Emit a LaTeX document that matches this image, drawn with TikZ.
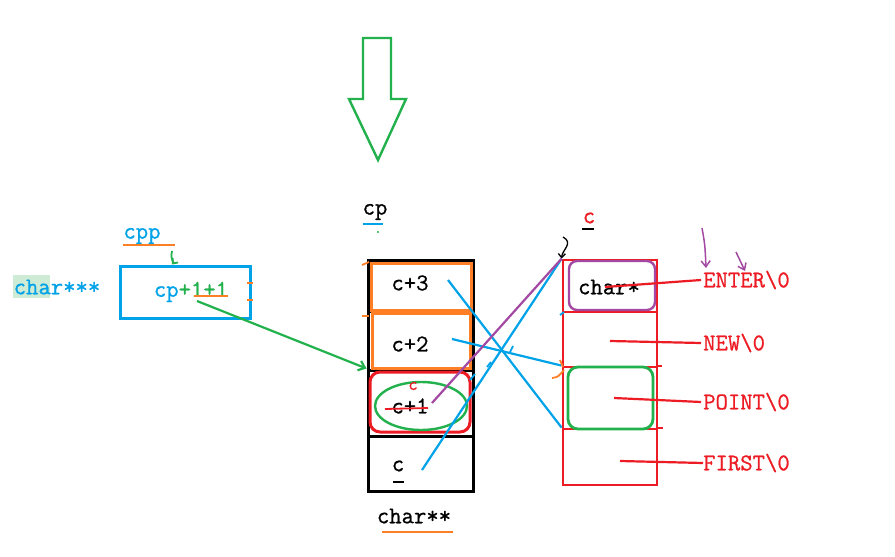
\documentclass[tikz,border=0pt]{standalone}
\usepackage{fontspec}
\newfontfamily\mono[FakeBold=0.8]{Latin Modern Mono}
\usetikzlibrary{arrows.meta,shapes.geometric}
\definecolor{pblue}{HTML}{00A2E8}
\definecolor{pred}{HTML}{ED1C24}
\definecolor{pgreen}{HTML}{22B14C}
\definecolor{porange}{HTML}{FF7F27}
\definecolor{ppurple}{HTML}{A349A4}
\definecolor{hl}{HTML}{CDEBD5}
\tikzset{
  txt/.style={font=\mono\fontsize{24}{24}\selectfont, inner sep=0pt},
  cellbox/.style={draw=black, line width=3pt, minimum width=105pt, inner sep=0pt},
  orbox/.style={draw=porange, line width=3pt, inner sep=0pt},
  redcell/.style={draw=pred, line width=2.8pt, minimum width=94pt, inner sep=0pt},
  lbl/.style={txt, text=pred, anchor=west},
  redline/.style={draw=pred, line width=2.2pt},
  blueline/.style={draw=pblue, line width=2.2pt},
  purpline/.style={draw=ppurple, line width=2.2pt},
  pen/.style={line width=1.8pt},
  barb/.style={-{Straight Barb[length=6pt,width=10pt]}},
}
\begin{document}
\begin{tikzpicture}[x=1pt,y=-1pt]
\useasboundingbox[fill=white] (0,0) rectangle (895,557);

% big hollow green arrow
\draw[pgreen, line width=2.4pt, line join=miter]
  (363,38) -- (391,38) -- (391,99) -- (406,99) -- (378,160) -- (349,99) -- (363,99) -- cycle;

% ---------- left part ----------
\fill[hl] (13,275) rectangle (50,298);
\node[txt, text=pblue] (c3star) at (57,287) {char***};
\node[txt, text=pblue] (cpp) at (142,236) {cpp};
\draw[porange, pen] (123,245) -- (175,245);
\node[draw=pblue, line width=3pt, minimum width=130pt, minimum height=52pt, inner sep=0pt] (cppbox) at (185,292) {};
\node[txt] (cptext) at (191,292) {\textcolor{pblue}{cp}\textcolor{pgreen}{+1+1}};
\draw[porange, pen] (194,296) -- (228,296);
\draw[porange, pen] (247,283) -- (253,283);
\draw[porange, pen] (247,300) -- (253,300);
\coordinate (gtop) at (172,251);
\draw[pgreen, pen, -{Straight Barb[length=4pt,width=7pt]}] (gtop) .. controls (170,260) and (174,262) .. (cppbox.north -| gtop);

% ---------- middle column ----------
\node[txt] (cplabel) at (375,212) {cp};
\draw[pblue, pen] (363,224) -- (383,224);
\fill[pgreen] (378,232) circle (1.2);

\node[cellbox, minimum height=51pt] (cell3) at (420.5,285.5) {};
\node[cellbox, minimum height=59pt] (cell2) at (420.5,340.5) {};
\node[cellbox, minimum height=66pt] (cell1) at (420.5,403) {};
\node[cellbox, minimum height=55pt] (cell0) at (420.5,463.5) {};

\node[orbox, minimum width=100pt, minimum height=47pt] (or3) at (421,286.5) {};
\node[orbox, minimum width=98pt, minimum height=55pt] (or2) at (421,340.5) {};
\node[draw=pred, line width=3pt, rounded corners=10pt, minimum width=100pt, minimum height=60pt, inner sep=0pt] (rr1) at (420,402) {};
\node[draw=pgreen, line width=2.4pt, ellipse, minimum width=92pt, minimum height=48pt, inner sep=0pt] (ell) at (421,406) {};

\node[txt] (t3) at (410,283) {c+3};
\node[txt] (t2) at (410,344) {c+2};
\node[txt] (t1) at (410,406) {c+1};
\draw[pred, pen] (385,409) -- (428,408);
\node[txt, text=pred, font=\mono\fontsize{18}{18}\selectfont] (redc) at (413,386) {c};
\node[txt] (t0) at (398,466) {c};
\draw[black, pen] (393,482) -- (404,482);
\node[txt] (cstarstar) at (414,516) {char**};
\draw[porange, pen] (382,532) -- (453,532);

\draw[porange, pen] (362,265) -- (369,262);
\draw[porange, pen] (362,316) -- (369,316);

% green arrow cp+1 -> c+1
\coordinate (gstart) at (197,301);
\draw[pgreen, line width=2.2pt, barb] (gstart) -- (cell1.north west);

% ---------- right column ----------
\node[txt, text=pred] (rc) at (589,218) {c};
\draw[black, pen] (582,229) -- (594,229);
\node[redcell, minimum height=52pt] (r0) at (610,286) {};
\node[redcell, minimum height=55pt] (r1) at (610,339.5) {};
\node[redcell, minimum height=62pt] (r2) at (610,398) {};
\node[redcell, minimum height=56pt] (r3) at (610,457) {};
\draw[pred, line width=2pt] (r2.north east) -- ++(4,0);
\draw[pred, line width=2pt] (r3.north east) -- ++(5,0);

\node[draw=ppurple, line width=2.4pt, rounded corners=8pt, minimum width=86pt, minimum height=49pt, inner sep=0pt] (pbox) at (612,285.5) {};
\node[draw=pgreen, line width=2.8pt, rounded corners=10pt, minimum width=85pt, minimum height=62pt, inner sep=0pt] (gbox) at (610.5,398) {};
\node[txt] (cstar) at (609,287) {char*};

\coordinate (hk) at (563,237);
\draw[black, line width=1.3pt, -{Straight Barb[length=4pt,width=7pt]}] (hk) .. controls (574,243) and (562,250) .. (r0.north west);

% labels
\node[lbl] (enter) at (703,280) {ENTER\textbackslash 0};
\node[lbl] (new) at (703,343) {NEW\textbackslash 0};
\node[lbl] (point) at (703,402) {POINT\textbackslash 0};
\node[lbl] (first) at (703,463) {FIRST\textbackslash 0};

\coordinate (e0) at (605,287);
\coordinate (e1) at (610,341);
\coordinate (e2) at (614,398);
\coordinate (e3) at (620,461);
\draw[redline] (e0) -- ([xshift=-2pt]enter.west);
\draw[redline] (e1) -- ([xshift=-2pt]new.west);
\draw[redline] (e2) -- ([xshift=-2pt]point.west);
\draw[redline] (e3) -- (first.west);

% purple arrows above ENTER
\coordinate (pa) at (702,228);
\coordinate (pb) at (736,252);
\draw[ppurple, line width=1.5pt, -{Straight Barb[length=6pt,width=9pt]}] (pa) .. controls (705,245) .. (706,268);
\draw[ppurple, line width=1.5pt, -{Straight Barb[length=6pt,width=9pt]}] (pb) -- (745,271);

% crossing pointer lines
\coordinate (s3) at (448,280);
\coordinate (s2) at (452,339);
\coordinate (s0) at (422,470);
\coordinate (s1) at (432,403);
\draw[blueline] (s3) -- (r3.north west);
\draw[blueline] (s2) -- (r2.north west);
\draw[blueline] (s0) -- (r0.north west);
\draw[purpline] (s1) -- (r0.north west);

% small sketch ticks
\draw[pblue, pen] (470,380) -- (475,374);
\draw[pblue, pen] (487,367) -- (491,362);
\draw[pblue, pen] (510,352) -- (513,346);
\draw[pblue, pen] (560,315) -- (564,312);
\draw[porange, pen] (552,378) .. controls (558,377) .. (564,370);
\draw[porange, pen] (560,360) -- (563,367);
\end{tikzpicture}
\end{document}
